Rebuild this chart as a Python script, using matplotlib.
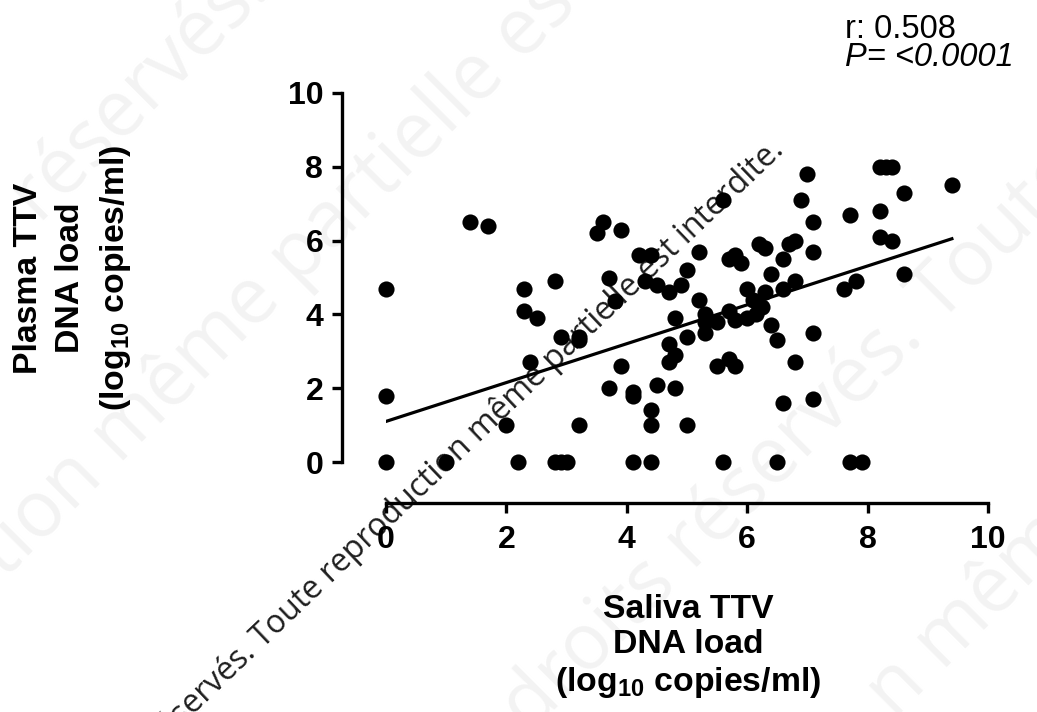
import matplotlib
matplotlib.use('Agg')
import matplotlib.pyplot as plt

# TTV DNA load, saliva vs plasma (log10 copies/ml), one pair per subject
saliva = [0.0, 0.0, 0.0, 1.0, 1.4, 1.7, 2.0, 2.2, 2.3, 2.3,
          2.5, 2.4, 2.8, 2.8, 2.9, 3.0, 2.9, 3.2, 3.2, 3.2,
          3.5, 3.6, 3.9, 3.7, 3.8, 3.7, 3.9, 4.1, 4.1, 4.2,
          4.4, 4.3, 4.5, 4.7, 4.9, 5.0, 4.8, 4.7, 4.8, 4.7,
          4.8, 4.5, 4.4, 4.4, 4.1, 4.4, 5.0, 5.0, 5.2, 5.2,
          5.3, 5.3, 5.3, 5.5, 5.6, 5.7, 5.7, 5.8, 5.9, 5.8,
          6.0, 6.15, 6.25, 5.5, 5.7, 5.8, 5.6, 6.0, 6.2, 6.3,
          6.1, 6.3, 6.4, 6.4, 6.5, 6.6, 6.7, 6.8, 6.6, 6.8,
          6.8, 6.6, 6.5, 6.9, 7.0, 7.1, 7.1, 7.1, 7.1, 7.6,
          7.8, 7.7, 7.7, 7.9, 8.2, 8.2, 8.4, 8.2, 8.3, 8.4,
          8.6, 8.6, 9.4]
plasma = [4.7, 1.8, 0.0, 0.0, 6.5, 6.4, 1.0, 0.0, 4.7, 4.1,
          3.9, 2.7, 4.9, 0.0, 0.0, 0.0, 3.4, 3.4, 3.3, 1.0,
          6.2, 6.5, 6.3, 5.0, 4.35, 2.0, 2.6, 1.9, 1.8, 5.6,
          5.6, 4.9, 4.8, 4.6, 4.8, 5.2, 3.9, 3.2, 2.9, 2.7,
          2.0, 2.1, 1.4, 1.0, 0.0, 0.0, 1.0, 3.4, 5.7, 4.4,
          4.0, 3.8, 3.5, 3.8, 7.1, 4.1, 5.5, 5.6, 5.4, 3.85,
          3.9, 4.0, 4.2, 2.6, 2.8, 2.6, 0.0, 4.7, 5.9, 5.8,
          4.4, 4.6, 5.1, 3.7, 3.3, 5.5, 5.9, 6.0, 4.7, 4.9,
          2.7, 1.6, 0.0, 7.1, 7.8, 6.5, 5.7, 3.5, 1.7, 4.7,
          4.9, 6.7, 0.0, 0.0, 6.8, 6.1, 6.0, 8.0, 8.0, 8.0,
          7.3, 5.1, 7.5]

# linear regression line end points
fit_x = [0.0, 9.4]
fit_y = [1.1, 6.05]

ticks = [0, 2, 4, 6, 8, 10]
r_label = 'r: 0.508'
p_label = 'P= <0.0001'

plt.rcParams['font.family'] = 'Liberation Sans'
plt.rcParams['mathtext.fontset'] = 'custom'
plt.rcParams['mathtext.rm'] = 'Liberation Sans:bold'
plt.rcParams['mathtext.it'] = 'Liberation Sans:bold'
plt.rcParams['mathtext.bf'] = 'Liberation Sans:bold'

W, H = 1037, 712
fig = plt.figure(figsize=(W / 100, H / 100), dpi=100)


def fx(px):
    return px / W


def fy(py):
    return 1 - py / H


# faint background watermark, one diagonal band at a time
faint_lines = [
    ('réservés. Toute reproduction', 40, 225),
    ('tion même partielle est interdite.', 5, 580),
    ('droits réservés. Toute reproduction', 530, 735),
    ('n même partielle', 895, 720),
]
for txt, x0, y0 in faint_lines:
    fig.text(fx(x0), fy(y0), txt, fontsize=56, color='#f3f3f3',
             family='Open Sans', rotation=45, rotation_mode='anchor',
             ha='left', va='baseline', zorder=-3)

# dark watermark line
fig.text(fx(785), fy(152), 'Tous droits réservés. Toute reproduction même partielle est interdite.',
         fontsize=23, color='#1e1e1e', family='Open Sans', rotation=43.6,
         rotation_mode='anchor', ha='right', va='baseline', zorder=-2)

ax = fig.add_axes([fx(386), fy(462), (988 - 386) / W, (462 - 93) / H])
ax.patch.set_visible(False)

ax.scatter(saliva, plasma, s=135, color='black', linewidths=0, clip_on=False, zorder=3)
ax.plot(fit_x, fit_y, color='black', lw=2.3, zorder=2)

ax.set_xlim(0, 10)
ax.set_ylim(0, 10)
ax.set_xticks(ticks)
ax.set_yticks(ticks)

ax.spines[['top', 'right']].set_visible(False)
ax.spines['left'].set_position(('outward', 44 * 0.72))
ax.spines['bottom'].set_position(('outward', 41 * 0.72))
for side in ['left', 'bottom']:
    ax.spines[side].set_linewidth(2.4)
ax.tick_params(width=2.4, length=7.5, labelsize=23)
ax.tick_params(axis='y', pad=6)
ax.tick_params(axis='x', pad=8)
for lab in ax.get_xticklabels() + ax.get_yticklabels():
    lab.set_fontweight('bold')

fig.text(fx(73), fy(278), 'Plasma TTV\nDNA load\n(log$_{10}$ copies/ml)',
         rotation=90, ha='center', va='center', multialignment='center',
         fontsize=24.3, fontweight='bold', linespacing=1.45)
fig.text(fx(688), fy(647), 'Saliva TTV\nDNA load\n(log$_{10}$ copies/ml)',
         ha='center', va='center', multialignment='center',
         fontsize=24.3, fontweight='bold', linespacing=1.18)

fig.text(fx(845), fy(38), r_label, fontsize=23.5, ha='left', va='baseline')
fig.text(fx(845), fy(66), p_label, fontsize=23.5, ha='left', va='baseline', fontstyle='italic')

fig.savefig('out.png', dpi=100)
